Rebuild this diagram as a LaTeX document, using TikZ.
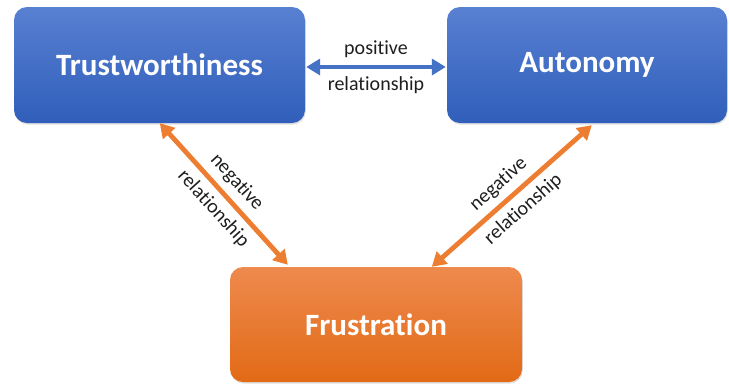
\documentclass[tikz,border=0pt]{standalone}
\usepackage{fontspec}
\setmainfont{Carlito}[Ligatures=NoCommon]
\usetikzlibrary{arrows.meta,calc,shadows}

\definecolor{boxbluetop}{RGB}{88,128,210}
\definecolor{boxbluebot}{RGB}{48,94,186}
\definecolor{boxorangetop}{RGB}{238,138,78}
\definecolor{boxorangebot}{RGB}{226,106,22}
\definecolor{linkblue}{RGB}{68,114,196}
\definecolor{linkorange}{RGB}{237,125,49}
\definecolor{labelgray}{RGB}{30,30,30}

\tikzset{
  concept/.style={rounded corners=13pt, inner sep=0pt,
    font=\fontsize{31}{34}\selectfont\bfseries, text=white,
    drop shadow={opacity=0.25, shadow xshift=0.8pt, shadow yshift=-1.6pt}},
  bluebox/.style={concept, top color=boxbluetop, bottom color=boxbluebot},
  orangebox/.style={concept, top color=boxorangetop, bottom color=boxorangebot},
  link/.style={line width=4.8pt, {Triangle[length=14pt,width=16pt]}-{Triangle[length=14pt,width=16pt]}},
  linklabel/.style={font=\fontsize{20}{22}\selectfont, text=labelgray, inner sep=1.5pt}
}

\begin{document}
\begin{tikzpicture}[x=1pt,y=-1pt]
  \useasboundingbox (0,0) rectangle (729,384);

  % the three concepts
  \node[bluebox, minimum width=291pt, minimum height=116pt] (tw) at (159.5,65) {Trustworthiness};
  \node[bluebox, minimum width=280pt, minimum height=116pt] (au) at (587,65) {Autonomy};
  \node[orangebox, minimum width=292pt, minimum height=115pt] (fr) at (376,324.5) {Frustration};

  % positive link between the upper boxes
  \draw[link, draw=linkblue, fill=linkblue, line width=4.3pt, shorten <=1pt, shorten >=1pt]
    ($(tw.east)+(0,2)$) -- ($(au.west)+(0,2)$)
    node[linklabel, midway, above=6pt] {positive}
    node[linklabel, midway, below=6pt] {relationship};

  % negative links to frustration
  \draw[link, draw=linkorange, fill=linkorange]
    ($(tw.south west)+(146,0)$) -- ($(fr.north west)+(58,-2)$)
    node[linklabel, pos=0.5, sloped, above=5pt] {negative}
    node[linklabel, pos=0.52, sloped, below=5pt] {relationship};

  \draw[link, draw=linkorange, fill=linkorange]
    ($(fr.north west)+(202,0)$) -- ($(au.south west)+(145,2)$)
    node[linklabel, pos=0.49, sloped, above=5pt] {negative}
    node[linklabel, pos=0.5, sloped, below=5pt] {relationship};
\end{tikzpicture}
\end{document}
